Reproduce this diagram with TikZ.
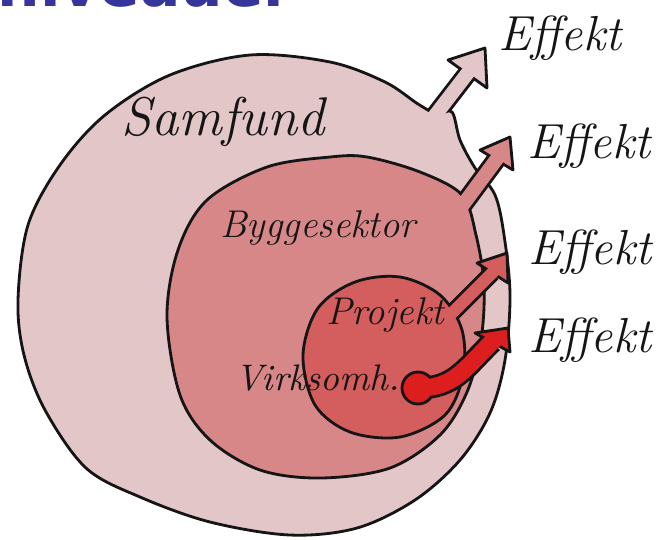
\documentclass[tikz,border=0pt]{standalone}
\usepackage{fontspec}
\newfontfamily\titlefont{DejaVu Sans}
\usetikzlibrary{calc}
\definecolor{levelblue}{HTML}{35359B}
\definecolor{samfundpink}{HTML}{E3C6C7}
\definecolor{byggepink}{HTML}{D78787}
\definecolor{projektred}{HTML}{D45E5E}
\definecolor{virkred}{HTML}{DC1E1E}
\definecolor{ink}{HTML}{151515}
\tikzset{
  blob/.style={draw=ink, line width=0.8pt, line join=round},
  effhead/.style={draw=ink, line width=0.8pt, line join=round},
  stemout/.style={draw=ink, line width=#1+1.6pt},
  stemin/.style 2 args={draw=#2, line width=#1},
  lvltext/.style={font=\fontsize{11}{13}\selectfont\itshape, text=ink, inner sep=0pt},
  efftext/.style={font=\fontsize{14}{16}\selectfont\itshape, text=ink, inner sep=0pt}
}

\begin{document}
\begin{tikzpicture}[x=0.01cm, y=-0.01cm]
  \useasboundingbox (0,0) rectangle (659,539);
  \clip (0,0) rectangle (659,539);

  % title, mostly cut off
  \node[anchor=base west, inner sep=0pt, text=levelblue,
        font=\titlefont\bfseries\fontsize{17}{20}\selectfont] (title) at (-3,6) {niveauer};

  % Samfund
  \draw[stemout=0.14cm] (430,122) -- (467,74);
  \path[blob, fill=samfundpink] plot[smooth cycle, tension=0.55] coordinates {
    (18,300) (28,225) (60,165) (105,115) (170,75) (250,55) (330,62) (385,82)
    (418,104) (437,114) (452,112) (460,140) (475,168) (495,195) (504,235)
    (510,295) (505,360) (490,413) (460,460) (415,500) (357,528) (290,535)
    (210,522) (140,497) (86,468) (45,410) (24,355)};
  \filldraw[effhead, fill=samfundpink] (448,60) -- (485,48) -- (487,88) -- cycle;
  \draw[stemin={0.14cm}{samfundpink}] (430,122) -- (470,70);

  % Byggesektor
  \draw[stemout=0.14cm] (448,225) -- (496,160);
  \path[blob, fill=byggepink] plot[smooth cycle, tension=0.55] coordinates {
    (167,317) (178,250) (207,200) (267,167) (330,157) (367,157) (420,172)
    (462,195) (476,235) (484,285) (481,340) (467,392) (440,435) (390,468)
    (321,478) (260,470) (210,440) (180,395)};
  \filldraw[effhead, fill=byggepink] (480,150) -- (510,137) -- (513,170) -- cycle;
  \draw[stemin={0.14cm}{byggepink}] (448,225) -- (499,156);

  % Projekt
  \draw[stemout=0.12cm] (447,318) -- (492,273);
  \path[blob, fill=projektred] plot[smooth cycle, tension=0.55] coordinates {
    (303,355) (318,308) (355,282) (400,277) (440,295) (462,330) (463,375)
    (445,415) (400,437) (350,432) (315,405)};
  \filldraw[effhead, fill=projektred] (477,263) -- (507,253) -- (508,283) -- cycle;
  \draw[stemin={0.12cm}{projektred}] (447,318) -- (495,270);

  % Virksomhed
  \draw[stemout=0.17cm] (418,388) .. controls (455,388) and (465,368) .. (492,342);
  \filldraw[effhead, fill=virkred] (418,388) circle[radius=0.16cm];
  \filldraw[effhead, fill=virkred] (475,333) -- (508,328) -- (510,352) -- cycle;
  \draw[stemin={0.17cm}{virkred}] (418,388) .. controls (455,388) and (465,368) .. (495,339);

  \node[lvltext, font=\fontsize{15.5}{18}\selectfont\itshape] (samfund) at (223,122) {Samfund};
  \node[lvltext] (bygge) at (318,228) {Byggesektor};
  \node[lvltext] (projekt) at (385,315) {Projekt};
  \node[lvltext, font=\fontsize{10.5}{12}\selectfont\itshape] (virk) at (318,378) {Virksomh.};

  \node[efftext] (eff1) at (560,38) {Effekt};
  \node[efftext] (eff2) at (589,146) {Effekt};
  \node[efftext] (eff3) at (590,252) {Effekt};
  \node[efftext] (eff4) at (590,340) {Effekt};
\end{tikzpicture}
\end{document}
